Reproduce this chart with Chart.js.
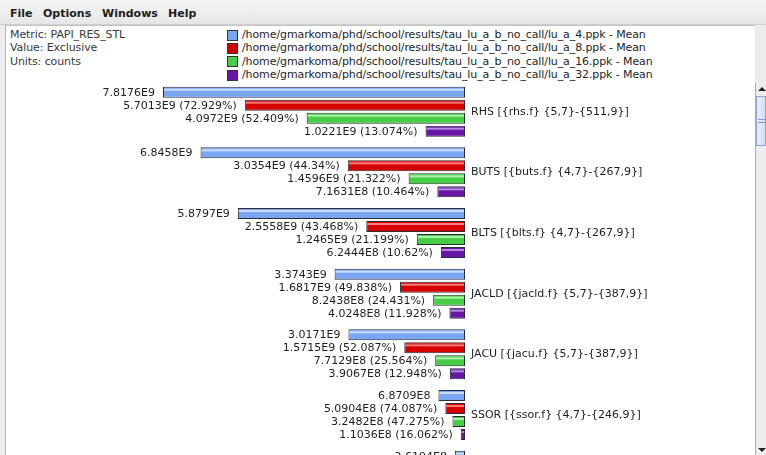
<!DOCTYPE html>
<html>
<head>
<meta charset="utf-8">
<script src="https://cdn.jsdelivr.net/npm/chart.js@4.4.0/dist/chart.umd.min.js"></script>
<style>
  html, body { margin: 0; padding: 0; }
  body { width: 766px; height: 455px; overflow: hidden; position: relative; background: #ececec; font-family: "DejaVu Sans", sans-serif; }
  #menu { position: absolute; left: 0; top: 0; width: 766px; height: 24px; background: linear-gradient(#f5f5f5, #e6e6e6); border-bottom: 1px solid #cfcfcf; }
  #menu span { position: absolute; top: 7px; font-size: 11px; line-height: 13px; font-weight: bold; color: #1e1e1e; }
  #panel { position: absolute; left: 5px; top: 25px; width: 750px; height: 440px; background: #fff; border-left: 1px solid #b4b4b4; border-top: 1px solid #c4c4c4; box-sizing: border-box; }
  #info { position: absolute; left: 10px; top: 28px; font-size: 11px; line-height: 13.4px; color: #3a3a3a; letter-spacing: -0.1px; }
  #legend { position: absolute; left: 227px; top: 28px; font-size: 11px; line-height: 13.4px; color: #1e1e1e; letter-spacing: -0.1px; }
  #legend .row { position: relative; height: 13.4px; white-space: pre; }
  #legend .sw { position: absolute; left: 0; top: 1.5px; width: 11px; height: 11px; box-sizing: border-box; border: 1px solid #333; }
  #legend .tx { position: absolute; left: 15px; top: 0; }
  #chart { position: absolute; left: 6px; top: 76px; }
  #scroll { position: absolute; left: 755px; top: 83px; width: 11px; height: 372px; background: #eeeeee; border-left: 1px solid #9fb1c9; box-sizing: border-box; }
  #scroll .up { position: absolute; left: 2px; top: 4px; width: 0; height: 0; border-left: 4px solid transparent; border-right: 4px solid transparent; border-bottom: 4px solid #222; }
  #scroll .down { position: absolute; left: 2px; top: 365px; width: 0; height: 0; border-left: 4px solid transparent; border-right: 4px solid transparent; border-top: 4px solid #222; }
  #scroll .thumb { position: absolute; left: 0; top: 13px; width: 10px; height: 50px; box-sizing: border-box; background: linear-gradient(90deg, #e8eef9, #d2dff3); border: 1px solid #8da6d3; }
  #scroll .grip { position: absolute; left: 1px; top: 22px; width: 8px; height: 4px; border-top: 1px solid #7d9bd6; border-bottom: 1px solid #7d9bd6; box-sizing: border-box; }
</style>
</head>
<body>
<div id="menu">
  <span style="left:10px">File</span>
  <span style="left:43px">Options</span>
  <span style="left:102px">Windows</span>
  <span style="left:168px">Help</span>
</div>
<div id="panel"></div>
<div id="info">Metric: PAPI_RES_STL<br>Value: Exclusive<br>Units: counts</div>
<div id="legend"></div>
<canvas id="chart" width="749" height="430"></canvas>
<div id="scroll"><div class="up"></div><div class="thumb"><div class="grip"></div></div><div class="down"></div></div>
<script>
// functions, top to bottom
const categories = [
  'RHS [{rhs.f} {5,7}-{511,9}]',
  'BUTS [{buts.f} {4,7}-{267,9}]',
  'BLTS [{blts.f} {4,7}-{267,9}]',
  'JACLD [{jacld.f} {5,7}-{387,9}]',
  'JACU [{jacu.f} {5,7}-{387,9}]',
  'SSOR [{ssor.f} {4,7}-{246,9}]',
  'L2NORM [{l2norm.f} {4,7}-{68,9}]'
];
const seriesNames = [
  '/home/gmarkoma/phd/school/results/tau_lu_a_b_no_call/lu_a_4.ppk - Mean',
  '/home/gmarkoma/phd/school/results/tau_lu_a_b_no_call/lu_a_8.ppk - Mean',
  '/home/gmarkoma/phd/school/results/tau_lu_a_b_no_call/lu_a_16.ppk - Mean',
  '/home/gmarkoma/phd/school/results/tau_lu_a_b_no_call/lu_a_32.ppk - Mean'
];
// mean exclusive counts (last row only partly visible)
const lu4  = [7.8176e9, 6.8458e9, 5.8797e9, 3.3743e9, 3.0171e9, 6.8709e8, 2.6194e8];
const lu8  = [5.7013e9, 3.0354e9, 2.5558e9, 1.6817e9, 1.5715e9, 5.0904e8, null];
const lu16 = [4.0972e9, 1.4596e9, 1.2465e9, 8.2438e8, 7.7129e8, 3.2482e8, null];
const lu32 = [1.0221e9, 7.1631e8, 6.2444e8, 4.0248e8, 3.9067e8, 1.1036e8, null];
// percent of the lu_a_4 value, as printed
const pct8  = [72.929, 44.34, 43.468, 49.838, 52.087, 74.087, null];
const pct16 = [52.409, 21.322, 21.199, 24.431, 25.564, 47.275, null];
const pct32 = [13.074, 10.464, 10.62, 11.928, 12.948, 16.062, null];

const fills = ['#79a5f3', '#d60000', '#46cf46', '#6915a6'];
const shines = ['#c9dcff', '#ff7a7a', '#aef2ae', '#b48ae0'];

const allValues = [lu4, lu8, lu16, lu32];
const allPct = [null, pct8, pct16, pct32];

// html legend
var legend = document.getElementById('legend');
seriesNames.forEach(function (name, i) {
  var row = document.createElement('div');
  row.className = 'row';
  row.innerHTML = '<div class="sw" style="background:' + fills[i] + '"></div><div class="tx"></div>';
  row.querySelector('.tx').textContent = name;
  legend.appendChild(row);
});

function fmt(v) {
  return v.toExponential(4).replace('e+', 'E');
}

const barDecor = {
  id: 'barDecor',
  afterDatasetsDraw(chart) {
    const ctx = chart.ctx;
    ctx.save();
    ctx.font = '11px "DejaVu Sans"';
    ctx.textAlign = 'right';
    ctx.textBaseline = 'middle';
    chart.data.datasets.forEach(function (ds, i) {
      const meta = chart.getDatasetMeta(i);
      meta.data.forEach(function (bar, j) {
        const v = ds.data[j];
        if (v == null) return;
        const left = Math.min(bar.x, bar.base);
        const right = Math.max(bar.x, bar.base);
        const top = bar.y - bar.height / 2;
        // light stripe near the top edge
        ctx.fillStyle = shines[i];
        ctx.fillRect(left + 1, top + 2, right - left - 2, 2);
        let text = fmt(v);
        if (allPct[i]) text += ' (' + allPct[i][j] + '%)';
        ctx.fillStyle = '#1e1e1e';
        ctx.fillText(text, left - 8, bar.y + 0.5);
      });
    });
    ctx.restore();
  }
};

new Chart(document.getElementById('chart'), {
  type: 'bar',
  data: {
    labels: categories,
    datasets: allValues.map(function (vals, i) {
      return {
        label: seriesNames[i],
        data: vals,
        backgroundColor: fills[i],
        borderColor: '#2b2b38',
        borderWidth: 1,
        borderSkipped: false,
        categoryPercentage: 0.857,
        barPercentage: 0.846
      };
    })
  },
  options: {
    indexAxis: 'y',
    responsive: false,
    animation: false,
    layout: { padding: { left: 157, top: 5.35, right: 0, bottom: 0 } },
    plugins: { legend: { display: false }, tooltip: { enabled: false } },
    scales: {
      x: {
        display: false,
        reverse: true,
        min: 0,
        max: Math.max.apply(null, lu4)
      },
      y: {
        position: 'right',
        grid: { display: false, drawTicks: false },
        border: { display: false },
        ticks: { padding: 6, color: '#1e1e1e', font: { family: 'DejaVu Sans', size: 11 }, autoSkip: false },
        afterFit: function (scale) {
          scale.width = 290;
          scale.paddingTop = 0;
          scale.paddingBottom = 0;
        }
      }
    }
  },
  plugins: [barDecor]
});
</script>
</body>
</html>
